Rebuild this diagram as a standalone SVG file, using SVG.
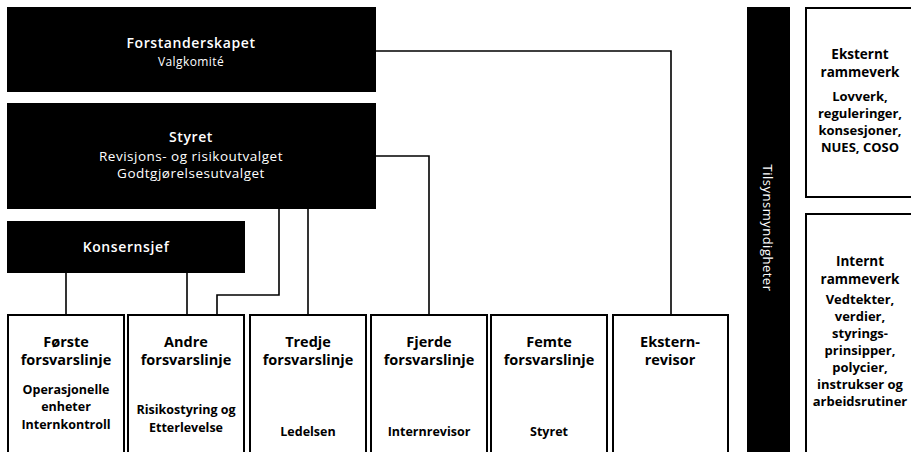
<svg xmlns="http://www.w3.org/2000/svg" width="911" height="452" viewBox="0 0 911 452">
<style>
.dark{fill:#000;}
.box{fill:#fff;stroke:#000;stroke-width:2;}
.con{fill:none;stroke:#000;stroke-width:1.6;}
text{font-family:"Open Sans","Liberation Sans",sans-serif;text-anchor:middle;}
.wt{fill:#fff;}
.h1{font-size:14px;font-weight:600;letter-spacing:0.6px;}
.s1{font-size:12px;letter-spacing:0.4px;}
.s2{font-size:13.5px;letter-spacing:0.5px;}
.bh{font-size:14.5px;font-weight:700;fill:#000;}
.bs{font-size:12.5px;font-weight:700;fill:#000;}
.rh{font-size:13.5px;font-weight:700;fill:#000;}
.rs{font-size:13px;font-weight:700;fill:#000;}
</style>
<rect width="911" height="452" fill="#fff"/>
<g id="connectors">
<polyline class="con" points="376,51 671,51 671,315"/>
<polyline class="con" points="376,156 429,156 429,315"/>
<polyline class="con" points="308,209 308,315"/>
<polyline class="con" points="279,209 279,295 217,295 217,315"/>
<polyline class="con" points="66,273 66,315"/>
<polyline class="con" points="187,273 187,315"/>
</g>
<g id="forstanderskapet">
<rect class="dark" x="7" y="7" width="369" height="85"/>
<text class="wt h1" x="191" y="48">Forstanderskapet</text>
<text class="wt s1" x="191" y="66">Valgkomité</text>
</g>
<g id="styret">
<rect class="dark" x="7" y="103" width="369" height="106"/>
<text class="wt h1" x="191" y="142">Styret</text>
<text class="wt s2" x="191" y="161">Revisjons- og risikoutvalget</text>
<text class="wt s2" x="191" y="178">Godtgjørelsesutvalget</text>
</g>
<g id="konsernsjef">
<rect class="dark" x="7" y="221" width="238" height="52"/>
<text class="wt h1" x="126" y="252">Konsernsjef</text>
</g>
<g id="forste">
<rect class="box" x="8" y="315" width="116" height="150"/>
<text class="bh" x="66" y="347">Første</text>
<text class="bh" x="66" y="365">forsvarslinje</text>
<text class="bs" x="66" y="394">Operasjonelle</text>
<text class="bs" x="66" y="411">enheter</text>
<text class="bs" x="66" y="429">Internkontroll</text>
</g>
<g id="andre">
<rect class="box" x="128" y="315" width="116" height="150"/>
<text class="bh" x="186" y="347">Andre</text>
<text class="bh" x="186" y="365">forsvarslinje</text>
<text class="bs" x="186" y="414">Risikostyring og</text>
<text class="bs" x="186" y="432">Etterlevelse</text>
</g>
<g id="tredje">
<rect class="box" x="250" y="315" width="116" height="150"/>
<text class="bh" x="308" y="347">Tredje</text>
<text class="bh" x="308" y="365">forsvarslinje</text>
<text class="bs" x="308" y="436">Ledelsen</text>
</g>
<g id="fjerde">
<rect class="box" x="371" y="315" width="116" height="150"/>
<text class="bh" x="429" y="347">Fjerde</text>
<text class="bh" x="429" y="365">forsvarslinje</text>
<text class="bs" x="429" y="436">Internrevisor</text>
</g>
<g id="femte">
<rect class="box" x="491" y="315" width="116" height="150"/>
<text class="bh" x="549" y="347">Femte</text>
<text class="bh" x="549" y="365">forsvarslinje</text>
<text class="bs" x="549" y="436">Styret</text>
</g>
<g id="eksternrevisor">
<rect class="box" x="613" y="315" width="115" height="150"/>
<text class="bh" x="670" y="347">Ekstern-</text>
<text class="bh" x="670" y="365">revisor</text>
</g>
<g id="tilsynsmyndigheter">
<rect class="dark" x="747" y="7" width="43" height="460"/>
<text class="wt" font-size="13" letter-spacing="0.5" transform="translate(763,228) rotate(90)">Tilsynsmyndigheter</text>
</g>
<g id="eksternt">
<rect class="box" x="806" y="8" width="120" height="189"/>
<text class="rh" x="860" y="59">Eksternt</text>
<text class="rh" x="860" y="77">rammeverk</text>
<text class="rs" x="860" y="101">Lovverk,</text>
<text class="rs" x="860" y="118">reguleringer,</text>
<text class="rs" x="860" y="135">konsesjoner,</text>
<text class="rs" x="860" y="152">NUES, COSO</text>
</g>
<g id="internt">
<rect class="box" x="806" y="214" width="120" height="250"/>
<text class="rh" x="860" y="266">Internt</text>
<text class="rh" x="860" y="284">rammeverk</text>
<text class="rs" x="860" y="304">Vedtekter,</text>
<text class="rs" x="860" y="321">verdier,</text>
<text class="rs" x="860" y="338">styrings-</text>
<text class="rs" x="860" y="355">prinsipper,</text>
<text class="rs" x="860" y="372">polycier,</text>
<text class="rs" x="860" y="389">instrukser og</text>
<text class="rs" x="860" y="406">arbeidsrutiner</text>
</g>
</svg>
